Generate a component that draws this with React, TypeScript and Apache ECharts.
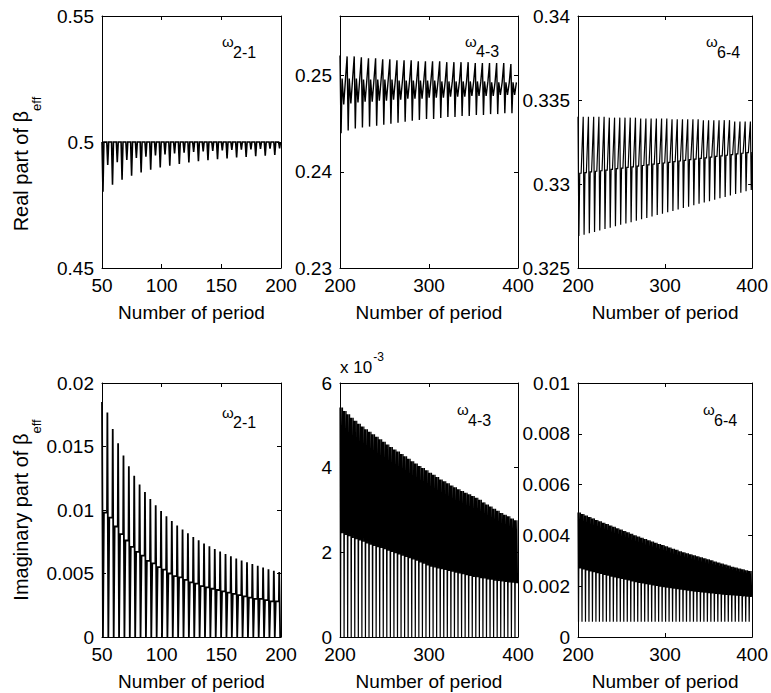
import React, { useEffect, useRef } from 'react';
import * as echarts from 'echarts';

const FONT = "'Liberation Sans', Arial, Helvetica, sans-serif";

// ---------- Data (one value per oscillation cycle) ----------
// Real part, omega 2-1 (x 50..200, cycle 8 periods)
const real21Top = 0.5;
const real21Lower = [0.4803, 0.4830, 0.4850, 0.4866, 0.4879, 0.4890, 0.4899, 0.4906, 0.4913, 0.4919, 0.4924, 0.4928, 0.4932, 0.4935, 0.4939, 0.4941, 0.4944, 0.4946, 0.4949];
const real21Mid = [0.4909, 0.4920, 0.4929, 0.4937, 0.4942, 0.4947, 0.4951, 0.4955, 0.4958, 0.4961, 0.4963, 0.4965, 0.4967, 0.4969, 0.4970, 0.4971, 0.4973, 0.4974, 0.4975];

// Real part, omega 4-3 (x 200..400, cycle 8 periods)
const real43Upper = [0.2521, 0.2520, 0.2520, 0.2519, 0.2518, 0.2518, 0.2517, 0.2517, 0.2516, 0.2516, 0.2516, 0.2515, 0.2515, 0.2515, 0.2515, 0.2514, 0.2514, 0.2514, 0.2514, 0.2513, 0.2513, 0.2513, 0.2513, 0.2513, 0.2512];
const real43Lower = [0.2440, 0.2443, 0.2445, 0.2446, 0.2447, 0.2448, 0.2449, 0.2450, 0.2451, 0.2452, 0.2453, 0.2454, 0.2455, 0.2455, 0.2456, 0.2457, 0.2457, 0.2458, 0.2458, 0.2459, 0.2459, 0.2460, 0.2460, 0.2461, 0.2461];
const real43MidHigh = [0.2497, 0.2497, 0.2497, 0.2496, 0.2496, 0.2496, 0.2496, 0.2496, 0.2495, 0.2495, 0.2495, 0.2495, 0.2495, 0.2495, 0.2494, 0.2494, 0.2494, 0.2494, 0.2494, 0.2494, 0.2494, 0.2493, 0.2493, 0.2493, 0.2493];
const real43MidLow = [0.2470, 0.2471, 0.2472, 0.2473, 0.2473, 0.2474, 0.2474, 0.2475, 0.2475, 0.2476, 0.2476, 0.2476, 0.2477, 0.2477, 0.2477, 0.2478, 0.2478, 0.2478, 0.2479, 0.2479, 0.2479, 0.2479, 0.2480, 0.2480, 0.2480];

// Real part, omega 6-4 (x 200..400, cycle 6 periods)
const real64Upper = [0.3340, 0.3340, 0.3340, 0.3340, 0.3340, 0.3340, 0.33395, 0.33395, 0.33395, 0.33395, 0.33395, 0.33395, 0.3339, 0.3339, 0.3339, 0.3339, 0.3339, 0.3339, 0.33385, 0.33385, 0.33385, 0.33385, 0.33385, 0.33385, 0.3338, 0.3338, 0.3338, 0.3338, 0.3338, 0.3338, 0.33372, 0.33372, 0.33372, 0.33372];
const real64Lower = [0.32690, 0.32698, 0.32707, 0.32715, 0.32723, 0.32732, 0.32740, 0.32748, 0.32757, 0.32765, 0.32773, 0.32782, 0.32790, 0.32798, 0.32807, 0.32815, 0.32823, 0.32832, 0.32840, 0.32848, 0.32857, 0.32865, 0.32873, 0.32882, 0.32890, 0.32898, 0.32907, 0.32915, 0.32923, 0.32932, 0.32940, 0.32948, 0.32957, 0.32965];
const real64Mid = [0.33064, 0.33068, 0.33072, 0.33076, 0.33079, 0.33083, 0.33087, 0.33091, 0.33095, 0.33099, 0.33102, 0.33106, 0.33110, 0.33114, 0.33118, 0.33122, 0.33125, 0.33129, 0.33133, 0.33137, 0.33141, 0.33145, 0.33148, 0.33152, 0.33156, 0.33160, 0.33164, 0.33168, 0.33171, 0.33175, 0.33179, 0.33183, 0.33187, 0.33191];

// Imaginary part, omega 2-1 (x 50..200, cycle 4.5 periods)
const imag21Upper = [0.0185, 0.01768, 0.01638, 0.01526, 0.01429, 0.01344, 0.01269, 0.01201, 0.01141, 0.01086, 0.01037, 0.00992, 0.00951, 0.00913, 0.00878, 0.00846, 0.00816, 0.00788, 0.00762, 0.00737, 0.00715, 0.00693, 0.00673, 0.00654, 0.00636, 0.00619, 0.00603, 0.00588, 0.00574, 0.00560, 0.00547, 0.00534, 0.00522, 0.00511];
const imag21Mid = [0.0098, 0.0094, 0.0087, 0.0081, 0.0076, 0.0071, 0.0067, 0.0064, 0.0060, 0.0058, 0.0055, 0.0053, 0.0050, 0.0048, 0.0047, 0.0045, 0.0043, 0.0042, 0.0040, 0.0039, 0.0038, 0.0037, 0.0036, 0.0035, 0.0034, 0.0033, 0.0032, 0.0031, 0.0030, 0.0030, 0.0029, 0.0028, 0.0028, 0.0027];
const imag21Floor = 0;

// Imaginary part, omega 4-3 (x 200..400, cycle 4 periods), in units of 1e-3
const imag43Upper = [5.42, 5.34, 5.26, 5.18, 5.11, 5.04, 4.97, 4.91, 4.85, 4.79, 4.73, 4.67, 4.61, 4.55, 4.49, 4.43, 4.38, 4.32, 4.27, 4.21, 4.15, 4.10, 4.04, 3.99, 3.94, 3.88, 3.83, 3.78, 3.72, 3.68, 3.63, 3.58, 3.54, 3.49, 3.45, 3.41, 3.37, 3.33, 3.29, 3.24, 3.18, 3.13, 3.08, 3.03, 2.98, 2.93, 2.89, 2.85, 2.80, 2.76];
const imag43Mid = [2.45, 2.41, 2.38, 2.34, 2.31, 2.28, 2.25, 2.21, 2.18, 2.15, 2.12, 2.10, 2.07, 2.04, 2.01, 1.98, 1.95, 1.92, 1.89, 1.86, 1.83, 1.80, 1.76, 1.73, 1.69, 1.66, 1.64, 1.62, 1.60, 1.58, 1.56, 1.54, 1.52, 1.50, 1.48, 1.46, 1.44, 1.42, 1.41, 1.39, 1.38, 1.36, 1.35, 1.33, 1.32, 1.31, 1.30, 1.29, 1.28, 1.27];
const imag43Floor = 0;

// Imaginary part, omega 6-4 (x 200..400, cycle 4 periods)
const imag64Upper = [0.00490, 0.00484, 0.00478, 0.00472, 0.00467, 0.00461, 0.00456, 0.00450, 0.00445, 0.00439, 0.00434, 0.00428, 0.00423, 0.00417, 0.00412, 0.00406, 0.00401, 0.00396, 0.00391, 0.00386, 0.00381, 0.00376, 0.00371, 0.00366, 0.00362, 0.00357, 0.00352, 0.00347, 0.00343, 0.00338, 0.00334, 0.00330, 0.00326, 0.00322, 0.00318, 0.00314, 0.00310, 0.00306, 0.00302, 0.00297, 0.00293, 0.00289, 0.00285, 0.00281, 0.00277, 0.00274, 0.00270, 0.00267, 0.00263, 0.00260];
const imag64Mid = [0.00270, 0.00266, 0.00262, 0.00258, 0.00255, 0.00251, 0.00248, 0.00244, 0.00241, 0.00237, 0.00234, 0.00231, 0.00228, 0.00225, 0.00222, 0.00219, 0.00216, 0.00213, 0.00211, 0.00208, 0.00206, 0.00203, 0.00201, 0.00198, 0.00196, 0.00194, 0.00192, 0.00190, 0.00188, 0.00186, 0.00184, 0.00182, 0.00180, 0.00178, 0.00177, 0.00175, 0.00174, 0.00172, 0.00171, 0.00169, 0.00168, 0.00166, 0.00165, 0.00164, 0.00163, 0.00162, 0.00161, 0.00160, 0.00159, 0.00158];
const imag64Floor = 0.0006;

const transitionLabels = ['2-1', '4-3', '6-4', '2-1', '4-3', '6-4'];
const xLabelName = 'Number of period';

// ---------- helpers ----------
const same = (v: number, n: number) => new Array(n).fill(v);

function buildZigzag(x0: number, cycle: number, xMax: number, steps: [number, number[]][]) {
  const pts: [number, number][] = [];
  const n = steps[0][1].length;
  for (let k = 0; k < n; k++) {
    for (const [off, lv] of steps) {
      const x = x0 + k * cycle + off;
      if (x <= xMax + 1e-9) pts.push([x, lv[k]]);
    }
  }
  return pts;
}

function measure(text: string, size: number) {
  const c = document.createElement('canvas').getContext('2d');
  if (!c) return text.length * size * 0.55;
  c.font = `${size}px 'Liberation Sans'`;
  return c.measureText(text).width;
}

export default function App() {
  const ref = useRef<HTMLDivElement>(null);

  useEffect(() => {
    if (!ref.current) return;
    const chart = echarts.init(ref.current, undefined, { renderer: 'svg' });

    const T21 = same(real21Top, real21Lower.length);
    const s0 = buildZigzag(50, 8, 200, [
      [0, T21], [0.8, real21Lower], [1.6, T21], [4, T21], [4.8, real21Mid], [5.6, T21],
    ]);
    const s1 = buildZigzag(200, 8, 400, [
      [0, real43Upper], [1.2, real43Lower], [2.4, real43MidHigh], [4.2, real43MidLow], [6.2, real43MidHigh],
    ]);
    const s2 = buildZigzag(200, 6, 400, [
      [0, real64Upper], [1.0, real64Lower], [2.0, real64Mid], [3.6, real64Mid],
    ]);
    const Z21 = same(imag21Floor, imag21Upper.length);
    const s3 = buildZigzag(50, 4.5, 200, [
      [0, imag21Upper], [0.8, Z21], [1.6, imag21Mid], [4.2, imag21Mid],
    ]);
    const Z43 = same(imag43Floor, imag43Upper.length);
    const s4 = buildZigzag(200, 4, 400, [
      [0, imag43Upper], [0.6, Z43], [1.2, imag43Upper], [2.0, imag43Mid], [2.8, imag43Upper], [3.4, imag43Mid],
    ]);
    const F64 = same(imag64Floor, imag64Upper.length);
    const s5 = buildZigzag(200, 4, 400, [
      [0, imag64Upper], [0.6, F64], [1.2, imag64Upper], [2.0, imag64Mid], [2.8, imag64Upper], [3.4, imag64Mid],
    ]);
    const seriesData = [s0, s1, s2, s3, s4, s5];
    const lineWidths = [1.6, 1.4, 1.2, 1.8, 1.2, 1.2];

    const panels = [
      { grid: { left: 102, top: 16, width: 179, height: 252 }, x: [50, 200, 50], y: [0.45, 0.55, 0.05] },
      { grid: { left: 340, top: 16, width: 178, height: 252 }, x: [200, 400, 100], y: [0.23, 0.2562, 0.01] },
      { grid: { left: 578, top: 16, width: 179, height: 252 }, x: [200, 400, 100], y: [0.325, 0.34, 0.005] },
      { grid: { left: 102, top: 383, width: 179, height: 254 }, x: [50, 200, 50], y: [0, 0.02, 0.005] },
      { grid: { left: 340, top: 383, width: 178, height: 254 }, x: [200, 400, 100], y: [0, 6, 2] },
      { grid: { left: 578, top: 383, width: 179, height: 254 }, x: [200, 400, 100], y: [0, 0.01, 0.002] },
    ];

    const axisLine = { show: true, onZero: false, lineStyle: { color: '#000', width: 1 } };
    const axisTick = { show: true, inside: true, length: 4, lineStyle: { color: '#000', width: 1 } };
    const labelStyle = { color: '#000', fontSize: 19, fontFamily: FONT, margin: 8 };

    const xAxis: any[] = [];
    const yAxis: any[] = [];
    const series: any[] = [];
    panels.forEach((p, i) => {
      xAxis.push({
        type: 'value', gridIndex: i, position: 'bottom', min: p.x[0], max: p.x[1], interval: p.x[2],
        axisLine, axisTick, axisLabel: { ...labelStyle, margin: 9, lineHeight: 16 }, splitLine: { show: false },
        name: xLabelName, nameLocation: 'middle', nameGap: 35,
        nameTextStyle: { color: '#000', fontSize: 19, fontFamily: FONT },
      });
      xAxis.push({
        type: 'value', gridIndex: i, position: 'top', min: p.x[0], max: p.x[1], interval: p.x[2],
        axisLine, axisTick, axisLabel: { show: false }, splitLine: { show: false },
      });
      yAxis.push({
        type: 'value', gridIndex: i, position: 'left', min: p.y[0], max: p.y[1], interval: p.y[2],
        axisLine, axisTick,
        axisLabel: { ...labelStyle, lineHeight: 14, showMaxLabel: i === 1 ? false : true },
        splitLine: { show: false },
      });
      yAxis.push({
        type: 'value', gridIndex: i, position: 'right', min: p.y[0], max: p.y[1], interval: p.y[2],
        axisLine, axisTick, axisLabel: { show: false }, splitLine: { show: false },
      });
      series.push({
        type: 'line', xAxisIndex: 2 * i, yAxisIndex: 2 * i, data: seriesData[i],
        showSymbol: false, symbol: 'none', clip: true,
        lineStyle: { color: '#000', width: lineWidths[i], join: 'miter' }, emphasis: { disabled: true }, silent: true,
      });
    });

    const txt = (text: string, x: number, y: number, size: number, rotation = 0) => ({
      type: 'text', x, y, rotation, silent: true,
      style: {
        text, fontSize: size, fontFamily: FONT, fill: '#000',
        align: 'left', verticalAlign: 'middle', textAlign: 'left', textVerticalAlign: 'middle',
      },
    });

    const omegaPos = [
      [222, 41.5, 233, 52], [465, 41.5, 476, 51.5], [706, 41.5, 717, 52],
      [222, 412.5, 233, 422], [457, 409.5, 468, 420], [703, 409.5, 714, 420],
    ];
    const graphic: any[] = [];
    omegaPos.forEach((q, i) => {
      graphic.push(txt('ω', q[0], q[1], 15));
      graphic.push(txt(transitionLabels[i], q[2], q[3], 16));
    });

    // x 10^-3 exponent label
    const wX10 = measure('x 10', 17);
    graphic.push(txt('x 10', 340, 367.5, 17));
    graphic.push(txt('-3', 340 + wX10 + 1, 357, 12));

    // rotated y-axis labels with subscript
    const yLabel = (main: string, cy: number) => {
      const w1 = measure(main, 20);
      const w2 = measure('eff', 13);
      const total = w1 + w2;
      const bottom = cy + total / 2;
      graphic.push(txt(main, 20.5, bottom, 20, Math.PI / 2));
      graphic.push(txt('eff', 36, bottom - w1, 13, Math.PI / 2));
    };
    yLabel('Real part of β', 164);
    yLabel('Imaginary part of β', 510);

    chart.setOption({
      animation: false,
      backgroundColor: '#fff',
      grid: panels.map((p) => ({ ...p.grid, containLabel: false })),
      xAxis, yAxis, series, graphic,
    });

    return () => chart.dispose();
  }, []);

  return (
    <div
      ref={ref}
      style={{ position: 'absolute', left: 0, top: 0, width: 771, height: 693, background: '#fff' }}
    />
  );
}
